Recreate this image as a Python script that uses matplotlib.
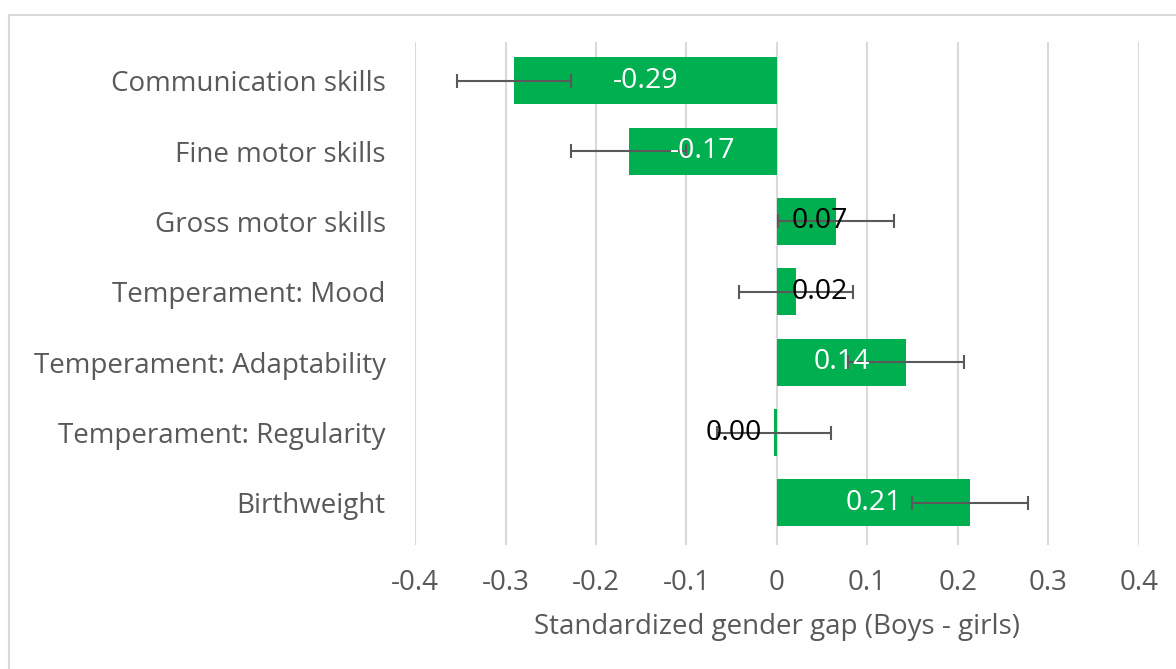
import matplotlib.pyplot as plt
from matplotlib.patches import Rectangle

# data
categories = ['Communication skills', 'Fine motor skills', 'Gross motor skills',
              'Temperament: Mood', 'Temperament: Adaptability',
              'Temperament: Regularity', 'Birthweight']
gaps = [-0.291, -0.164, 0.065, 0.021, 0.143, -0.003, 0.213]
labels = ['-0.29', '-0.17', '0.07', '0.02', '0.14', '0.00', '0.21']
errors = [0.063, 0.064, 0.064, 0.063, 0.064, 0.063, 0.064]
xticks = [-0.4, -0.3, -0.2, -0.1, 0, 0.1, 0.2, 0.3, 0.4]
xtick_labels = ['-0.4', '-0.3', '-0.2', '-0.1', '0', '0.1', '0.2', '0.3', '0.4']

plt.rcParams['font.family'] = ['Open Sans', 'DejaVu Sans']
grey = '#595959'
green = '#00B050'

fig = plt.figure(figsize=(11.76, 6.69), dpi=100)
ax = fig.add_axes([0.3529, 0.1853, 0.6156, 0.7517])

# chart border
fig.patches.append(Rectangle((9 / 1176, -0.01), 1.0, (669 - 15) / 669 + 0.01,
                             transform=fig.transFigure, fill=False,
                             edgecolor='#D9D9D9', linewidth=1.5))

y = list(range(len(categories)))
ax.barh(y, gaps, height=0.67, color=green, zorder=2)
ax.errorbar(gaps, y, xerr=errors, fmt='none', ecolor=grey, elinewidth=1.5,
            capsize=5, capthick=1.5, zorder=3)

for yi, v, lab in zip(y, gaps, labels):
    if abs(v) >= 0.1:
        ax.text(v / 2, yi, lab, ha='center', va='center', color='white',
                fontsize=20.5, zorder=4)
    elif v > 0:
        ax.text(0.016, yi, lab, ha='left', va='center', color='black',
                fontsize=20.5, zorder=4)
    else:
        ax.text(-0.017, yi, lab, ha='right', va='center', color='black',
                fontsize=20.5, zorder=4)

ax.set_xlim(-0.4, 0.4)
ax.set_ylim(6.6, -0.55)
ax.set_yticks(y)
ax.set_yticklabels(categories, fontsize=20, color=grey)
ax.set_xticks(xticks)
ax.set_xticklabels(xtick_labels, fontsize=20, color=grey)
ax.tick_params(length=0)
ax.tick_params(axis='y', pad=21)
ax.tick_params(axis='x', pad=17)
ax.grid(axis='x', color='#D9D9D9', linewidth=1.5, zorder=0)
ax.set_axisbelow(True)
for s in ax.spines.values():
    s.set_visible(False)
ax.set_xlabel('Standardized gender gap (Boys - girls)', fontsize=20,
              color=grey, labelpad=12)

fig.savefig('out.png', dpi=100)
